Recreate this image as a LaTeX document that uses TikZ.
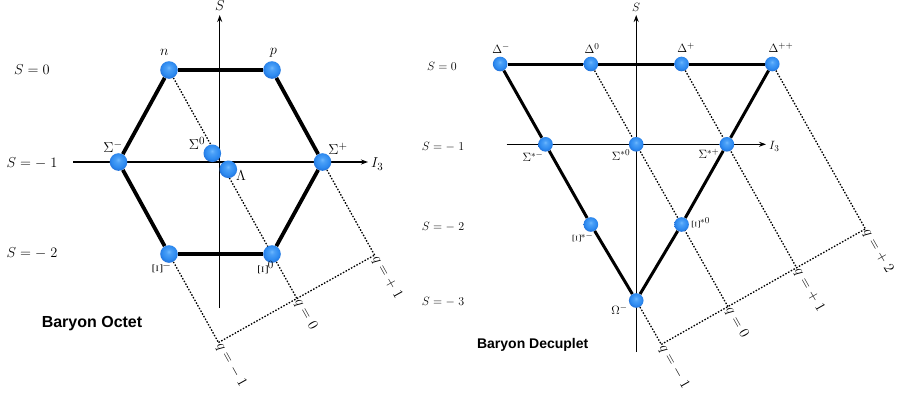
\documentclass[tikz,border=0pt]{standalone}
\usepackage{fontspec}
\newfontfamily\hv{Liberation Sans}
\usetikzlibrary{arrows.meta,backgrounds}
\definecolor{ballblue}{RGB}{45,138,240}
\definecolor{ballhi}{RGB}{110,185,255}
\definecolor{balldark}{RGB}{28,100,205}
\pgfdeclareradialshading{blueball}{\pgfpoint{-1bp}{7bp}}{%
  color(0bp)=(ballhi); color(7bp)=(ballhi!45!ballblue); color(20bp)=(ballblue);
  color(31bp)=(balldark); color(50bp)=(balldark)}
\begin{document}
\begin{tikzpicture}[x=1pt,y=-1pt,
  oball/.style={circle, minimum size=17.6pt, inner sep=0pt, shading=blueball},
  dball/.style={circle, minimum size=14.6pt, inner sep=0pt, shading=blueball},
  oedge/.style={line width=3.8pt},
  dedge/.style={line width=3pt},
  axisline/.style={line width=1.1pt, -{Stealth[length=7pt,width=5pt]}},
  qline/.style={line width=1.3pt, dash pattern=on 1.5pt off 1.6pt},
  olab/.style={font=\fontsize{15}{17}\selectfont, inner sep=0pt},
  dlab/.style={font=\fontsize{13}{15}\selectfont, inner sep=0pt},
  orow/.style={font=\fontsize{15.5}{17}\selectfont, inner sep=0pt},
  drow/.style={font=\fontsize{13}{15}\selectfont, inner sep=0pt},
  oq/.style={font=\fontsize{15.5}{17}\selectfont, inner sep=1.5pt, anchor=west, rotate=-60.76},
  dq/.style={font=\fontsize{14.5}{16}\selectfont, inner sep=1.5pt, anchor=west, rotate=-60.5},
  title/.style={inner sep=0pt}
]
\useasboundingbox (0,0) rectangle (897,394);
% ---------------- Octet ----------------
\node[oball] (n)  at (169,70) {};
\node[oball] (p)  at (272,70) {};
\node[oball] (Sm) at (118.5,162) {};
\node[oball] (Sp) at (322.5,162) {};
\node[oball] (Xm) at (169,254) {};
\node[oball] (X0) at (272,254) {};
\node[oball] (S0) at (212.3,153.3) {};
\node[oball] (L)  at (228.3,169.3) {};
\coordinate (oSb) at (219.7,308);
\coordinate (oSt) at (219.7,15);
\coordinate (oIl) at (73,162);
\coordinate (oIr) at (368,162);
\coordinate (oc1) at (218.5,342.5);
\coordinate (oc0) at (296.9,298.5);
\coordinate (oc2) at (374.6,255.1);
\begin{pgfonlayer}{background}
  \fill[white] (0,0) rectangle (897,394);
  \draw[axisline] (oSb) -- (oSt);
  \draw[axisline] (oIl) -- (oIr);
  \draw[qline] (n) -- (oc0);
  \draw[qline] (Xm) -- (oc1);
  \draw[qline] (Sp) -- (oc2);
  \draw[qline] (oc1) -- (oc0) -- (oc2);
  \draw[oedge] (n) -- (p);
  \draw[oedge] (p) -- (Sp);
  \draw[oedge] (Sp) -- (X0);
  \draw[oedge] (X0) -- (Xm);
  \draw[oedge] (Xm) -- (Sm);
  \draw[oedge] (Sm) -- (n);
\end{pgfonlayer}
\node[font=\fontsize{14}{16}\selectfont, inner sep=0pt] (oSlab) at (220,6) {$S$};
\node[olab, anchor=west] (oIlab) at (371,164) {$I_3$};
\node[orow] (or0) at (32,70) {$S = 0$};
\node[orow] (or1) at (32,163) {$S = -\;1$};
\node[orow] (or2) at (32,253.5) {$S = -\;2$};
\node[olab] (ln)  at (164.3,52.3) {$n$};
\node[olab] (lp)  at (273.5,52.5) {$p$};
\node[olab] (lSm) at (113,146.5) {$\Sigma^-$};
\node[olab] (lSp) at (338,148.5) {$\Sigma^+$};
\node[olab] (lS0) at (197,143.5) {$\Sigma^0$};
\node[olab] (lL)  at (241,175.5) {$\Lambda$};
\node[olab] (lXm) at (162,268) {\rotatebox{90}{$\Xi$}$^-$};
\node[olab] (lX0) at (266,268) {\rotatebox{90}{$\Xi$}$^0$};
\node[oq] (q1) at (oc1) {$q = -\;1$};
\node[oq] (q0) at (oc0) {$q = 0$};
\node[oq] (q2) at (oc2) {$q = +\;1$};
\node[title, font=\hv\bfseries\fontsize{16}{18}\selectfont] (ot) at (92,324) {Baryon Octet};
% ---------------- Decuplet ----------------
\node[dball] (Dm)  at (500.15,64) {};
\node[dball] (D0)  at (590.85,64) {};
\node[dball] (Dp)  at (681.55,64) {};
\node[dball] (Dpp) at (772.25,64) {};
\node[dball] (Ssm) at (545.5,144.3) {};
\node[dball] (Ss0) at (636.2,144.3) {};
\node[dball] (Ssp) at (726.9,144.3) {};
\node[dball] (Xsm) at (590.85,224.5) {};
\node[dball] (Xs0) at (681.55,224.5) {};
\node[dball] (Om)  at (636.2,300.5) {};
\coordinate (dSb) at (636.2,352);
\coordinate (dSt) at (636.2,15);
\coordinate (dIl) at (506.7,144.3);
\coordinate (dIr) at (766,144.3);
\coordinate (dc1) at (661.3,344.4);
\coordinate (dc0) at (727.9,306.6);
\coordinate (dc2) at (796.6,267.7);
\coordinate (dc3) at (865.4,228.9);
\begin{pgfonlayer}{background}
  \draw[axisline, line width=1pt] (dSb) -- (dSt);
  \draw[axisline, line width=1pt] (dIl) -- (dIr);
  \draw[qline] (Om) -- (dc1);
  \draw[qline] (D0) -- (dc0);
  \draw[qline] (Dp) -- (dc2);
  \draw[qline] (Dpp) -- (dc3);
  \draw[qline] (dc1) -- (dc0) -- (dc2) -- (dc3);
  \draw[dedge] (Dm) -- (D0);
  \draw[dedge] (D0) -- (Dp);
  \draw[dedge] (Dp) -- (Dpp);
  \draw[dedge] (Dpp) -- (Ssp);
  \draw[dedge] (Ssp) -- (Xs0);
  \draw[dedge] (Xs0) -- (Om);
  \draw[dedge] (Om) -- (Xsm);
  \draw[dedge] (Xsm) -- (Ssm);
  \draw[dedge] (Ssm) -- (Dm);
\end{pgfonlayer}
\node[font=\fontsize{13}{15}\selectfont, inner sep=0pt] (dSlab) at (636,7) {$S$};
\node[dlab, anchor=west] (dIlab) at (769,146) {$I_3$};
\node[drow] (dr0) at (442,66) {$S = 0$};
\node[drow] (dr1) at (443,147) {$S = -\;1$};
\node[drow] (dr2) at (443,227) {$S = -\;2$};
\node[drow] (dr3) at (443,302) {$S = -\;3$};
\node[dlab] (lDm)  at (501,49) {$\Delta^-$};
\node[dlab] (lD0)  at (592,48.5) {$\Delta^0$};
\node[dlab] (lDp)  at (686,48) {$\Delta^+$};
\node[dlab] (lDpp) at (781,48) {$\Delta^{++}$};
\node[dlab] (lSsm) at (533,157) {$\Sigma^{*-}$};
\node[dlab] (lSs0) at (621,155) {$\Sigma^{*0}$};
\node[dlab] (lSsp) at (709,154) {$\Sigma^{*+}$};
\node[dlab] (lXsm) at (583,238) {\rotatebox{90}{$\Xi$}$^{*-}$};
\node[dlab] (lXs0) at (701,223) {\rotatebox{90}{$\Xi$}$^{*0}$};
\node[dlab] (lOm)  at (619.5,310) {$\Omega^-$};
\node[dq] (dq1) at (dc1) {$q = -\;1$};
\node[dq] (dq0) at (dc0) {$q = 0$};
\node[dq] (dq2) at (dc2) {$q = +\;1$};
\node[dq] (dq3) at (dc3) {$q = +\;2$};
\node[title, font=\hv\bfseries\fontsize{14}{16}\selectfont] (dt) at (532.7,345) {Baryon Decuplet};
\end{tikzpicture}
\end{document}
